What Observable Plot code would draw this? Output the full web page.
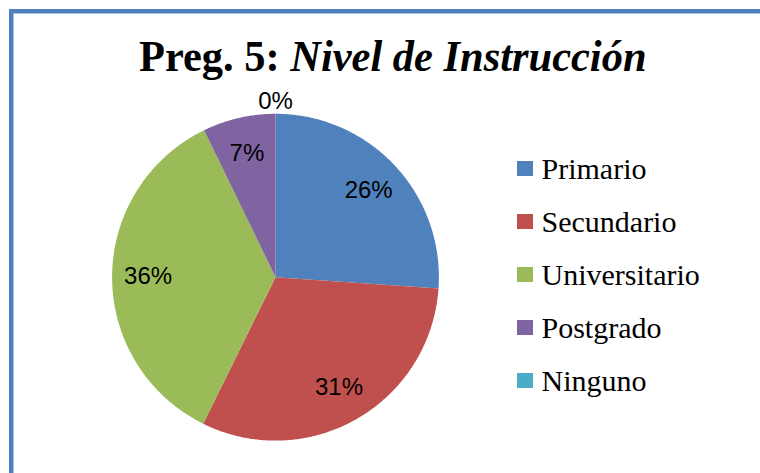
<!DOCTYPE html>
<html>
<head>
<meta charset="utf-8">
<script src="https://cdn.jsdelivr.net/npm/d3@7"></script>
<script src="https://cdn.jsdelivr.net/npm/@observablehq/plot@0.6"></script>
<style>
  body { margin: 0; background: #fff; }
  #wrap { position: relative; width: 760px; height: 473px; overflow: hidden; background: #fff; }
  #wrap svg { position: absolute; left: 0; top: 0; }
  .border { position: absolute; left: 9px; top: 9px; width: 800px; height: 520px;
            border-left: 4px solid #4F81BD; border-top: 4px solid #4F81BD; box-sizing: border-box; }
  .border-inner { position: absolute; left: 13px; top: 13px; width: 800px; height: 520px;
            border-left: 1px solid #A9C2E0; border-top: 1px solid #A9C2E0; box-sizing: border-box; }
  .title { position: absolute; left: 139px; top: 35px; font-family: "Liberation Serif", "Times New Roman", serif;
           font-size: 44px; line-height: 44px; font-weight: bold; white-space: nowrap; color: #000;
           transform: scaleX(0.965); transform-origin: 0 0; }
  .sw { position: absolute; width: 15.5px; height: 15.5px; }
  .lt { position: absolute; font-family: "Liberation Serif", "Times New Roman", serif; font-size: 30px;
        line-height: 30px; white-space: nowrap; color: #000; }
</style>
</head>
<body>
<div id="wrap"></div>
<script>
// ---- data ----
const categories = ["Primario", "Secundario", "Universitario", "Postgrado", "Ninguno"];
const percentages = [26.1, 31.2, 35.5, 7.2, 0];
const colors = ["#4F81BD", "#C0504D", "#9BBB59", "#8064A2", "#4BACC6"];
const titleBold = "Preg. 5: ";
const titleItalic = "Nivel de Instrucción";

// ---- build pie geometry from data ----
const data = categories.map((c, i) => ({category: c, value: percentages[i]}));
const arcs = d3.pie().sort(null).value(d => d.value)(data);

const slicePts = [];
arcs.forEach(a => {
  if (a.data.value <= 0) return;
  const n = Math.max(2, Math.ceil((a.endAngle - a.startAngle) / (Math.PI / 360)));
  slicePts.push({category: a.data.category, x: 0, y: 0});
  for (let k = 0; k <= n; k++) {
    const t = a.startAngle + (a.endAngle - a.startAngle) * k / n;
    slicePts.push({category: a.data.category, x: Math.sin(t), y: Math.cos(t)});
  }
  slicePts.push({category: a.data.category, x: 0, y: 0});
});

const labelPts = arcs.map(a => {
  const t = (a.startAngle + a.endAngle) / 2;
  const r = a.data.value > 0 ? 0.78 : 1.075;
  return {x: r * Math.sin(t), y: r * Math.cos(t), text: Math.round(a.data.value) + "%"};
});

// ---- chart ----
const cx = 275, cy = 276.7, R = 163.4;
const chart = Plot.plot({
  width: 760,
  height: 473,
  margin: 0,
  style: {background: "transparent", overflow: "visible"},
  x: {domain: [-1, 1], range: [cx - R, cx + R], axis: null},
  y: {domain: [-1, 1], range: [cy + R, cy - R], axis: null},
  color: {type: "ordinal", domain: categories, range: colors},
  marks: [
    Plot.line(slicePts, {x: "x", y: "y", z: "category", fill: "category", stroke: "none"}),
    Plot.text(labelPts, {x: "x", y: "y", text: "text", fontSize: 24,
      fontFamily: "Liberation Sans, Arial, sans-serif", fill: "#000"})
  ]
});

const wrap = document.getElementById("wrap");
wrap.appendChild(chart);

const b1 = document.createElement("div"); b1.className = "border"; wrap.appendChild(b1);
const b2 = document.createElement("div"); b2.className = "border-inner"; wrap.appendChild(b2);

const title = document.createElement("div");
title.className = "title";
title.appendChild(document.createTextNode(titleBold));
const it = document.createElement("i"); it.textContent = titleItalic; title.appendChild(it);
wrap.appendChild(title);

// legend from the plot's color scale
const color = chart.scale("color");
color.domain.forEach((c, i) => {
  const sw = document.createElement("div");
  sw.className = "sw";
  sw.style.left = "517.3px";
  sw.style.top = (160.5 + i * 53) + "px";
  sw.style.background = color.range[i];
  wrap.appendChild(sw);
  const lt = document.createElement("div");
  lt.className = "lt";
  lt.style.left = "541.5px";
  lt.style.top = (154.4 + i * 53) + "px";
  lt.textContent = c;
  wrap.appendChild(lt);
});
</script>
</body>
</html>
